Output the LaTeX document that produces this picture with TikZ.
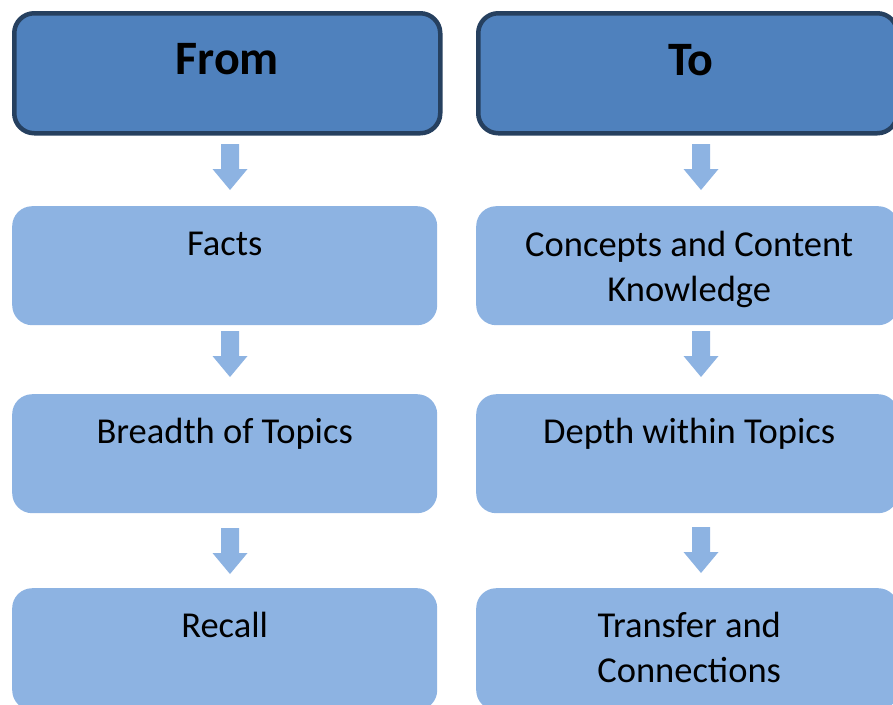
\documentclass[tikz,border=0pt]{standalone}
\usepackage{fontspec}
\setmainfont{Carlito}
\definecolor{hdrfill}{HTML}{4F81BD}
\definecolor{hdrline}{HTML}{26405F}
\definecolor{boxfill}{HTML}{8DB3E2}
\begin{document}
\begin{tikzpicture}[x=1pt,y=-1pt,
  hdr/.style={draw=hdrline, line width=4.5pt, fill=hdrfill, rounded corners=20pt,
    minimum height=120pt, inner sep=0pt, anchor=north west},
  stepbox/.style={fill=boxfill, rounded corners=20pt, inner sep=0pt, anchor=north west,
    minimum height=119pt},
  hdrtext/.style={font=\fontsize{48}{54}\selectfont\bfseries, inner sep=0pt, anchor=base, text=black},
  boxtext/.style={font=\fontsize{36.5}{45}\selectfont, align=center, inner sep=0pt, anchor=base, text=black},
  blockarr/.pic={\fill[boxfill] (-9,0) -- (9,0) -- (9,25) -- (17.5,25) -- (0,46) -- (-17.5,25) -- (-9,25) -- cycle;}
]
\useasboundingbox (0,0) rectangle (893,704);
% headers
\node[hdr, minimum width=426pt] (fromhdr) at (12,11) {};
\node[hdr, minimum width=419pt] (tohdr) at (476,11) {};
\node[hdrtext] (fromtxt) at ([yshift=-63pt]fromhdr.north) {From};
\node[hdrtext] (totxt) at ([xshift=3pt,yshift=-64pt]tohdr.north) {To};
% left column
\node[stepbox, minimum width=425pt] (facts) at (12,206) {};
\node[stepbox, minimum width=425pt] (breadth) at (12,394) {};
\node[stepbox, minimum width=425pt, minimum height=122pt] (recall) at (12,588) {};
% right column
\node[stepbox, minimum width=422pt] (concepts) at (476,206) {};
\node[stepbox, minimum width=422pt] (depth) at (476,394) {};
\node[stepbox, minimum width=422pt, minimum height=122pt] (transfer) at (476,588) {};
% texts
\node[boxtext] (factst) at ([yshift=-49pt]facts.north) {Facts};
\node[boxtext] (breadtht) at ([yshift=-49pt]breadth.north) {Breadth of Topics};
\node[boxtext] (recallt) at ([yshift=-49pt]recall.north) {Recall};
\node[boxtext] (conceptst) at ([xshift=2pt,yshift=-95pt]concepts.north) {Concepts and Content\\Knowledge};
\node[boxtext] (deptht) at ([xshift=2pt,yshift=-49pt]depth.north) {Depth within Topics};
\node[boxtext] (transfert) at ([xshift=2pt,yshift=-94pt]transfer.north) {Transfer and\\Connections};
% arrows
\coordinate (la1) at (230,144);
\coordinate (la2) at (230,331);
\coordinate (la3) at (230,528);
\coordinate (ra1) at (701,144);
\coordinate (ra2) at (701,331);
\coordinate (ra3) at (701,527);
\pic at (la1) {blockarr};
\pic at (la2) {blockarr};
\pic at (la3) {blockarr};
\pic at (ra1) {blockarr};
\pic at (ra2) {blockarr};
\pic at (ra3) {blockarr};
\end{tikzpicture}
\end{document}
